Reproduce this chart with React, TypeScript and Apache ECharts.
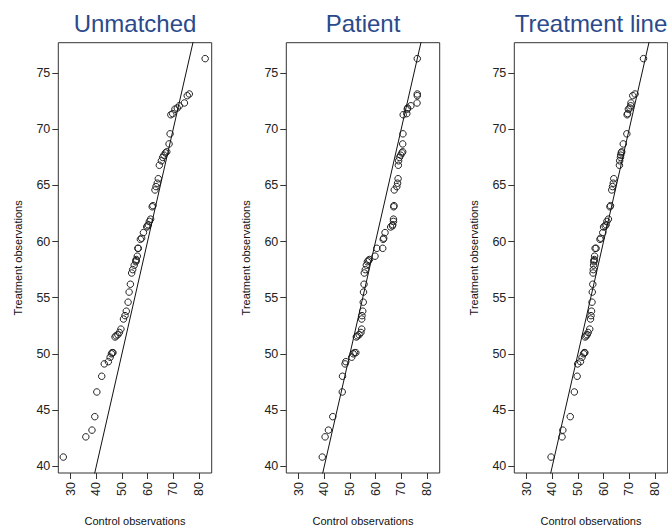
import React, { useEffect, useRef } from 'react';
import * as echarts from 'echarts';

// Sorted treatment observations (shared y values of the three QQ plots)
const treatmentObs = [40.8, 42.6, 43.2, 44.4, 46.6, 48.0, 49.1, 49.3, 49.7, 50.0, 50.1, 50.1, 51.5, 51.6, 51.7, 51.9, 52.2, 53.1, 53.4, 53.8, 54.6, 55.5, 56.2, 57.2, 57.5, 57.9, 58.2, 58.3, 58.4, 58.7, 59.4, 59.4, 60.2, 60.3, 60.8, 61.3, 61.4, 61.5, 61.8, 62.0, 63.1, 63.2, 64.6, 64.9, 65.2, 65.6, 66.8, 67.2, 67.5, 67.7, 67.9, 68.0, 68.7, 69.6, 71.3, 71.4, 71.8, 71.9, 72.1, 72.35, 73.0, 73.15, 76.3];

// Sorted control observations, one list per panel
const controlUnmatched = [27.1, 35.9, 38.3, 39.4, 40.2, 42.1, 43.1, 44.7, 45.4, 45.9, 46.2, 46.5, 47.3, 47.7, 48.4, 49.0, 49.6, 50.6, 51.2, 51.7, 52.4, 52.8, 53.3, 53.8, 54.2, 54.8, 55.4, 55.5, 55.6, 56.0, 56.2, 56.4, 57.2, 57.7, 58.4, 59.7, 59.9, 60.3, 60.7, 61.2, 61.8, 62.1, 62.9, 63.3, 63.8, 64.2, 64.6, 65.4, 65.9, 66.4, 67.0, 67.5, 68.4, 68.8, 69.1, 69.8, 70.7, 71.6, 72.4, 74.4, 75.5, 76.3, 82.5];
const controlPatient = [39.2, 40.3, 41.6, 43.3, 47.0, 47.1, 48.1, 48.4, 50.7, 51.3, 51.8, 52.3, 52.5, 52.9, 53.6, 54.3, 54.6, 54.6, 54.7, 55.0, 55.2, 55.3, 55.5, 55.6, 56.0, 56.4, 56.8, 57.2, 57.6, 59.8, 60.5, 62.8, 63.0, 63.2, 63.7, 65.9, 66.6, 66.7, 67.0, 67.0, 67.1, 67.2, 67.3, 68.3, 68.6, 68.8, 68.9, 69.0, 69.3, 69.8, 70.3, 70.6, 70.6, 70.7, 70.8, 72.2, 72.4, 72.5, 73.8, 76.2, 76.3, 76.3, 76.3];
const controlTreatmentLine = [39.5, 43.8, 44.1, 47.0, 48.6, 49.7, 49.9, 51.0, 51.6, 52.2, 52.5, 52.7, 52.8, 53.2, 53.6, 54.0, 54.6, 54.9, 55.1, 55.3, 55.5, 55.6, 55.8, 55.9, 56.0, 56.1, 56.2, 56.3, 56.4, 56.5, 56.7, 57.1, 58.6, 58.9, 59.7, 60.0, 60.6, 61.0, 61.3, 61.9, 62.5, 62.7, 63.2, 63.5, 63.8, 64.0, 66.2, 66.3, 66.6, 66.7, 66.9, 67.1, 67.7, 69.1, 69.2, 69.4, 69.7, 70.3, 70.6, 70.7, 71.4, 72.3, 75.6];

const panelTitles = ['Unmatched', 'Patient', 'Treatment line'];
const panelControls = [controlUnmatched, controlPatient, controlTreatmentLine];

const xTicks = [30, 40, 50, 60, 70, 80];
const yTicks = [40, 45, 50, 55, 60, 65, 70, 75];
const xRange = [25.15, 85.05];
const yRange = [39.38, 77.72];

// reference line y = intercept + slope * x (abline)
const refIntercept = 0;
const refSlope = 1;

const xAxisTitle = 'Control observations';
const yAxisTitle = 'Treatment observations';

const FONT = '"Liberation Sans", Arial, Helvetica, sans-serif';

export default function App() {
  const ref = useRef<HTMLDivElement>(null);

  useEffect(() => {
    if (!ref.current) return;
    const chart = echarts.init(ref.current, undefined, { renderer: 'svg' });

    const gridLeft0 = 58.3;
    const gridStep = 228;
    const gridWidth = 153.4;
    const gridTop = 42.7;
    const gridHeight = 434.6;

    const grids = panelTitles.map((_, i) => ({
      left: gridLeft0 + gridStep * i,
      top: gridTop,
      width: gridWidth,
      height: gridHeight,
      show: true,
      borderColor: '#333',
      borderWidth: 1,
      backgroundColor: 'transparent',
      containLabel: false,
    }));

    const xAxes = panelTitles.map((_, i) => ({
      type: 'value',
      gridIndex: i,
      min: xRange[0],
      max: xRange[1],
      name: xAxisTitle,
      nameLocation: 'middle',
      nameGap: 42,
      nameTextStyle: { fontFamily: FONT, fontSize: 11, color: '#111' },
      axisLine: { show: false },
      axisTick: { show: true, inside: false, length: 6, lineStyle: { color: '#333', width: 1 }, customValues: xTicks },
      axisLabel: {
        show: true,
        customValues: xTicks,
        rotate: 90,
        margin: 9,
        fontFamily: FONT,
        fontSize: 12.5,
        color: '#222',
      },
      splitLine: { show: false },
    }));

    const yAxes = panelTitles.map((_, i) => ({
      type: 'value',
      gridIndex: i,
      min: yRange[0],
      max: yRange[1],
      name: yAxisTitle,
      nameLocation: 'middle',
      nameGap: 35,
      nameTextStyle: { fontFamily: FONT, fontSize: 11, color: '#111' },
      axisLine: { show: false },
      axisTick: { show: true, inside: false, length: 6, lineStyle: { color: '#333', width: 1 }, customValues: yTicks },
      axisLabel: {
        show: true,
        customValues: yTicks,
        margin: 8,
        fontFamily: FONT,
        fontSize: 12.5,
        color: '#222',
      },
      splitLine: { show: false },
    }));

    const series: any[] = [];
    panelControls.forEach((ctrl, i) => {
      series.push({
        type: 'scatter',
        xAxisIndex: i,
        yAxisIndex: i,
        data: ctrl.map((x, k) => [x, treatmentObs[k]]),
        symbol: 'circle',
        symbolSize: 6.5,
        itemStyle: { color: 'rgba(0,0,0,0)', borderColor: '#222', borderWidth: 1, opacity: 1 },
        emphasis: { disabled: true },
        silent: true,
        z: 2,
      });
      const x0 = xRange[0] - 20;
      const x1 = xRange[1] + 20;
      series.push({
        type: 'line',
        xAxisIndex: i,
        yAxisIndex: i,
        data: [
          [x0, refIntercept + refSlope * x0],
          [x1, refIntercept + refSlope * x1],
        ],
        showSymbol: false,
        symbol: 'none',
        clip: true,
        lineStyle: { color: '#111', width: 1 },
        silent: true,
        z: 3,
      });
    });

    const graphics = panelTitles.map((t, i) => ({
      type: 'text',
      x: gridLeft0 + gridStep * i + gridWidth / 2,
      y: 23,
      style: {
        text: t,
        fill: '#2B4A8B',
        font: `24px ${FONT}`,
        textAlign: 'center',
        textVerticalAlign: 'middle',
      },
    }));

    chart.setOption({
      animation: false,
      backgroundColor: '#ffffff',
      grid: grids,
      xAxis: xAxes,
      yAxis: yAxes,
      series,
      graphic: graphics,
    });

    return () => chart.dispose();
  }, []);

  return (
    <div
      ref={ref}
      style={{ position: 'absolute', left: 0, top: 0, width: 668, height: 531, background: '#fff' }}
    />
  );
}
